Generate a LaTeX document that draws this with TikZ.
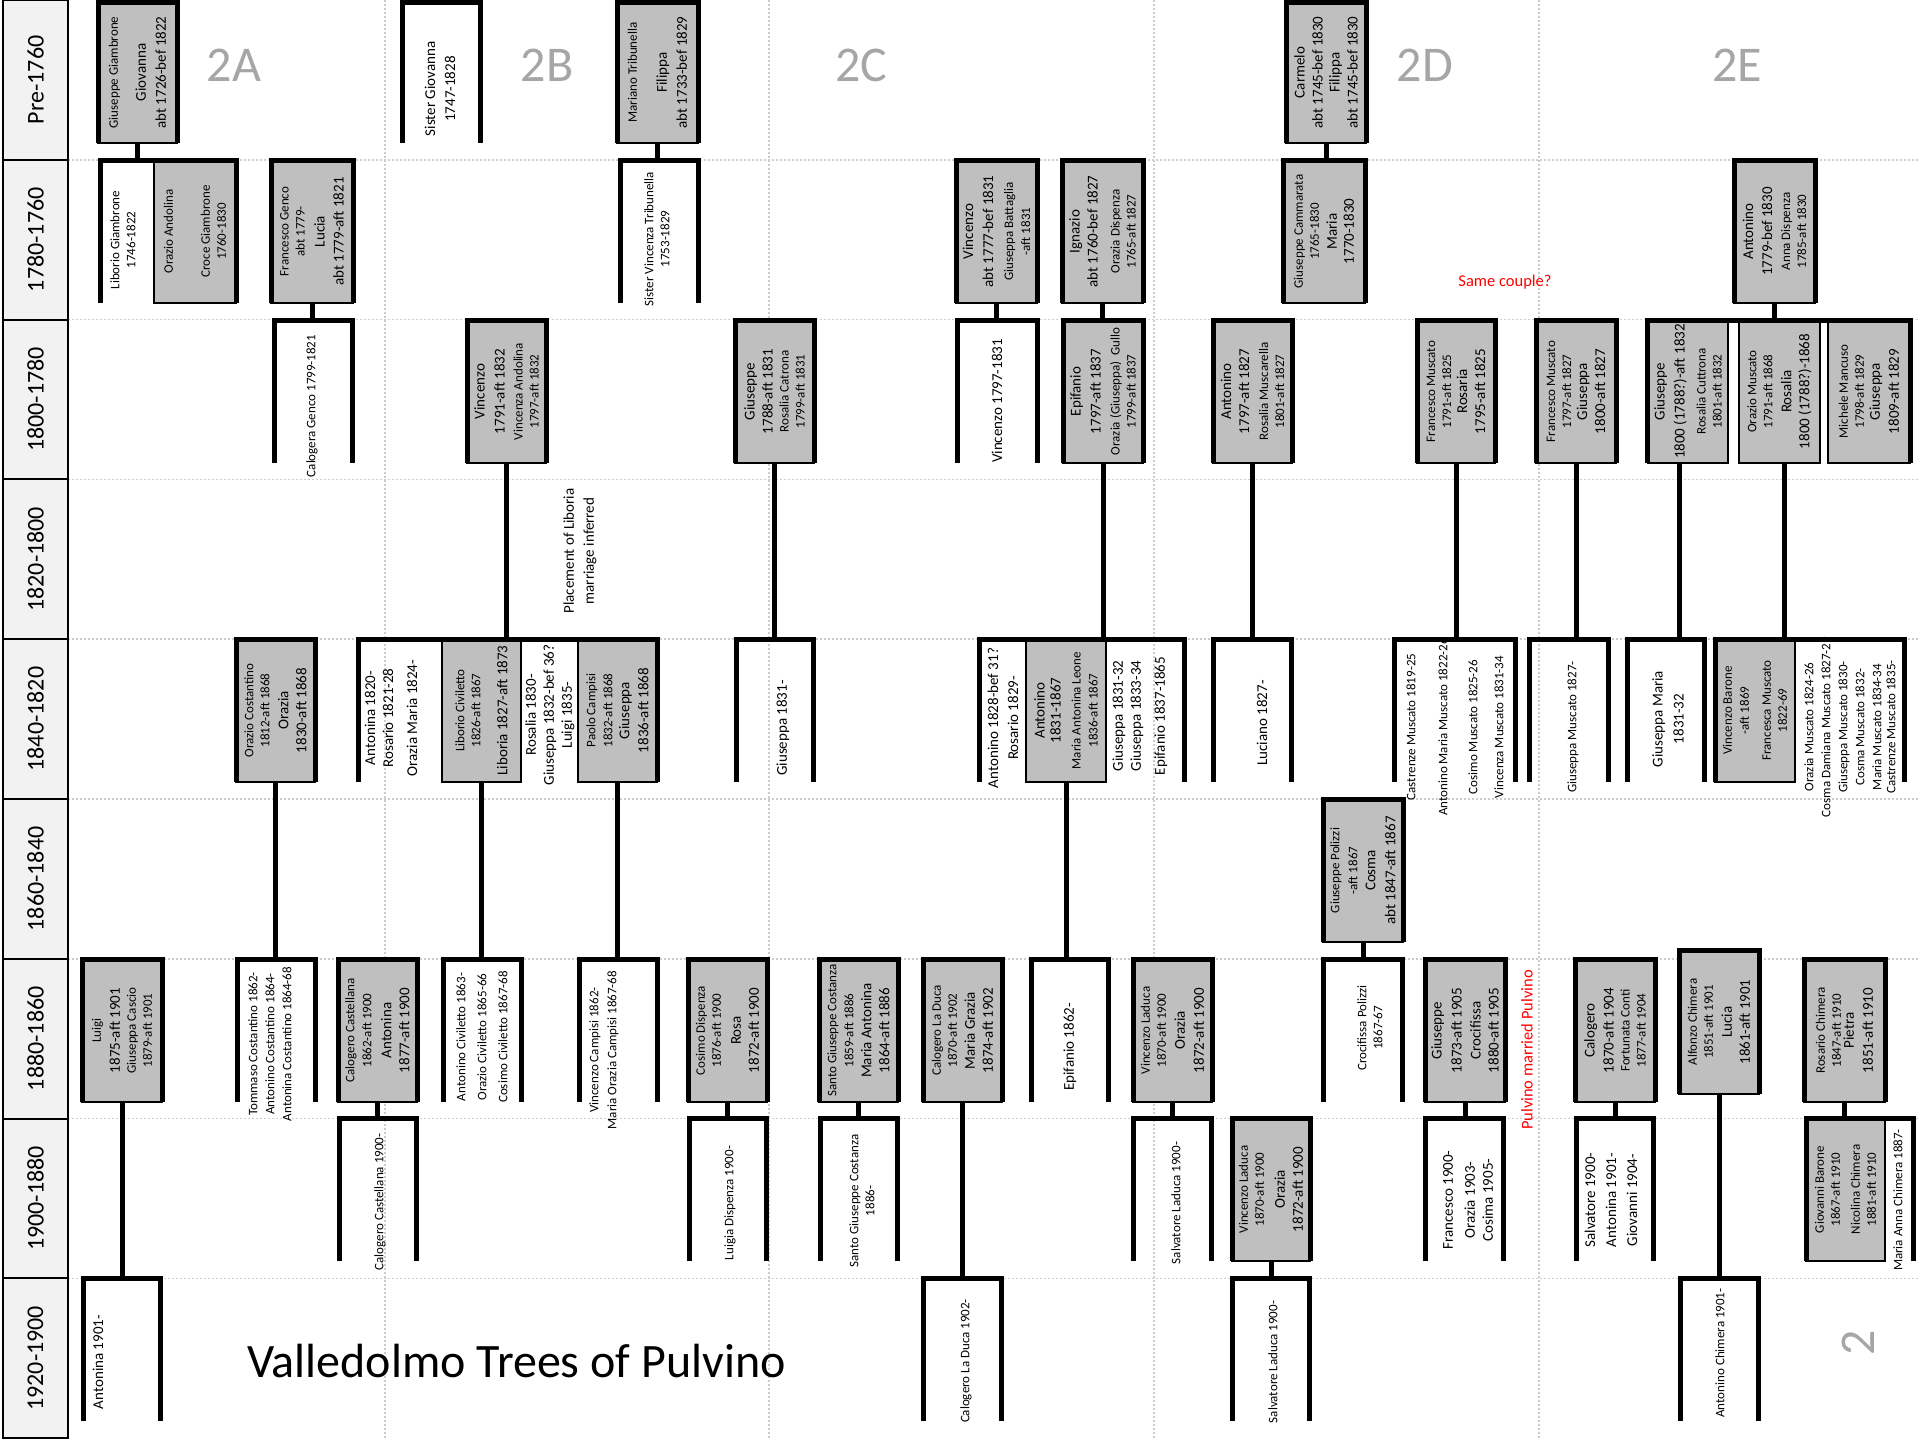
\documentclass[tikz,border=0pt]{standalone}
\usepackage{fontspec}
\setmainfont{Carlito}
\usetikzlibrary{positioning}

\definecolor{boxgray}{RGB}{191,191,191}
\definecolor{headgray}{RGB}{242,242,242}
\definecolor{labelgray}{RGB}{166,166,166}
\definecolor{gridgray}{RGB}{205,205,205}

\newcommand{\txs}{\fontsize{13}{16}\selectfont}
\newcommand{\txl}{\fontsize{15}{18}\selectfont}
% family bracket: name, left, right, top, bottom
\newcommand{\famspan}[5]{\coordinate (#1) at (#2,#4);
  \draw[fam] (#2,#5) -- (#1) -- (#3,#4) -- (#3,#5);}
\newcommand{\famown}[1]{\draw[fam] (#1.north west) -- (#1.north east) -- (#1.south east) -- (#1.south west);}
\newcommand{\famdrop}[2]{\draw[fam] (#1.west) -- (#1.west |- #2);}

\tikzset{
  fam/.style={line width=5pt},
  gridline/.style={draw=gridgray, line width=1.5pt, dash pattern=on 2pt off 2pt},
  rowhead/.style={draw, line width=2pt, fill=headgray, rotate=90, inner sep=0pt, outer sep=0pt,
    minimum width=159.8pt, minimum height=65pt, font=\fontsize{24}{29}\selectfont},
  couple/.style={draw, line width=2pt, fill=boxgray, rotate=90, inner sep=0pt, outer sep=0pt,
    minimum width=143pt, minimum height=80pt, align=center, font=\txs},
  kid/.style={rotate=90, inner sep=0pt, align=center, font=\txs},
  sect/.style={text=labelgray, font=\fontsize{50}{60}\selectfont},
  note/.style={text=red, font=\fontsize{16.5}{20}\selectfont},
}

\begin{document}
\begin{tikzpicture}[x=1pt, y=-1pt]
\useasboundingbox (0,0) rectangle (1920,1440);
\foreach \i in {1,...,8} \draw[gridline] (68,{159.8*\i}) -- (1920,{159.8*\i});
\foreach \x in {385,769,1154,1539} \draw[gridline] (\x,0) -- (\x,1440);
\foreach \lab [count=\i from 0] in {Pre-1760,1780-1760,1800-1780,1820-1800,1840-1820,1860-1840,1880-1860,1900-1880,1920-1900}
  \node[rowhead] (row\i) at (35.5,{79.9+159.8*\i}) {\lab};
\foreach \s/\x in {2A/234,2B/547,2C/861,2D/1425,2E/1737}
  \node[sect] (sec\s) at (\x,65) {\s};

% couples
\node[couple, minimum width=141pt, minimum height=79pt] (gg) at (137.5,72.5) {\txs Giuseppe Giambrone\\[12pt]\txl Giovanna\\[4pt]\txl abt 1726-bef 1822};
\node[couple, minimum width=141pt, minimum height=81pt] (mariano) at (657.5,72.5) {\txs Mariano Tribunella\\[14pt]\txl Filippa\\[4pt]\txl abt 1733-bef 1829};
\node[couple, minimum width=141pt] (carmelo) at (1326,72.5) {\txl Carmelo\\[2pt]\txl abt 1745-bef 1830\\[1pt]\txl Filippa\\[2pt]\txl abt 1745-bef 1830};

\node[couple, minimum height=82pt] (oandolina) at (195,231.5) {\txs Orazio Andolina\\[21pt]\txs Croce Giambrone\\ \txs 1760-1830};
\node[couple, minimum height=82pt] (genco) at (312,231.5) {\txs Francesco Genco\\ \txs abt 1779-\\[4pt]\txl Lucia\\[3pt]\txl abt 1779-aft 1821};
\node[couple, minimum height=81pt] (vbattaglia) at (996.5,231.5) {\txl Vincenzo\\[4pt]\txl abt 1777-bef 1831\\[4pt]\txs Giuseppa Battaglia\\[1pt]\txs -aft 1831};
\node[couple, minimum height=81pt] (ignazio) at (1102.5,231.5) {\txl Ignazio\\[2pt]\txl abt 1760-bef 1827\\[6pt]\txs Orazia Dispenza\\ \txs 1765-aft 1827};
\node[couple, minimum height=82pt] (cammarata) at (1324,231.5) {\txs Giuseppe Cammarata\\ \txs 1765-1830\\[2pt]\txl Maria\\[1pt]\txl 1770-1830};
\node[couple, minimum height=81pt] (adispenza) at (1774.5,231.5) {\txl Antonino\\[3pt]\txl 1779-bef 1830\\[2pt]\txs Anna Dispenza\\ \txs 1785-aft 1830};

\node[couple, minimum height=79pt] (vandolina) at (506.5,391.5) {\txl Vincenzo\\[4pt]\txl 1791-aft 1832\\[2pt]\txs Vincenza Andolina\\ \txs 1797-aft 1832};
\node[couple, minimum height=79pt] (gcatrona) at (774.5,391.5) {\txl Giuseppe\\[2pt]\txl 1788-aft 1831\\ \txs Rosalia Catrona\\ \txs 1799-aft 1831};
\node[couple] (epifanio) at (1103,391.5) {\txl Epifanio\\[4pt]\txl 1797-aft 1837\\[3pt]\txs Orazia (Giuseppa)\ \ Gullo\\ \txs 1799-aft 1837};
\node[couple, minimum height=79pt] (amuscarella) at (1252.5,391.5) {\txl Antonino\\[2pt]\txl 1797-aft 1827\\[3pt]\txs Rosalia Muscarella\\ \txs 1801-aft 1827};
\node[couple, minimum height=78pt] (fmrosaria) at (1456,391.5) {\txs Francesco Muscato\\ \txs 1791-aft 1825\\ \txl Rosaria\\[2pt]\txl 1795-aft 1825};
\node[couple] (fmgiuseppa) at (1576,391.5) {\txs Francesco Muscato\\ \txs 1797-aft 1827\\ \txl Giuseppa\\[2pt]\txl 1800-aft 1827};
\node[couple] (gm) at (1688,391.5) {\txl Giuseppe\\[4pt]\txl 1800 (1788?)-aft 1832\\[5pt]\txs Rosalia Cuttrona\\ \txs 1801-aft 1832};
\node[couple, minimum height=81pt] (omuscato) at (1779.5,391.5) {\txs Orazio Muscato\\ \txs 1791-aft 1868\\[3pt]\txl Rosalia\\[2pt]\txl 1800 (1788?)-1868};
\node[couple, minimum height=82pt] (mmancuso) at (1869,391.5) {\txs Michele Mancuso\\ \txs 1798-aft 1829\\ \txl Giuseppa\\[3pt]\txl 1809-aft 1829};

\node[couple, minimum height=79pt] (ocostantino) at (275.5,710.5) {\txs Orazio Costantino\\ \txs 1812-aft 1868\\[3pt]\txl Orazia\\[2pt]\txl 1830-aft 1868};
\node[couple, minimum height=79pt] (lcivil) at (481.5,710.5) {\txs Liborio Civiletto\\ \txs 1826-aft 1867\\[11pt]\txl Liboria 1827-aft 1873};
\node[couple, minimum height=79pt] (pcampisi) at (617.5,710.5) {\txs Paolo Campisi\\[1pt]\txs 1832-aft 1868\\[1pt]\txl Giuseppa\\[3pt]\txl 1836-aft 1868};
\node[couple] (aleone) at (1066,710.5) {\txl Antonino\\ \txl 1831-1867\\[4pt]\txs Maria Antonina Leone\\[1pt]\txs 1836-aft 1867};
\node[couple] (vbarone) at (1755,710.5) {\txs Vincenzo Barone\\[1pt]\txs -aft 1869\\[6pt]\txs Francesca Muscato\\ \txs 1822-69};

\node[couple] (gpolizzi) at (1363,870.5) {\txs Giuseppe Polizzi\\[2pt]\txs -aft 1867\\[2pt]\txl Cosma\\[4pt]\txl abt 1847-aft 1867};

\node[couple] (luigi) at (122,1030.5) {\txs Luigi\\[3pt]\txl 1875-aft 1901\\ \txs Giuseppa Cascio\\ \txs 1879-aft 1901};
\node[couple, minimum height=79pt] (ccastellana) at (377.5,1030.5) {\txs Calogero Castellana\\[1pt]\txs 1862-aft 1900\\[4pt]\txl Antonina\\[2pt]\txl 1877-aft 1900};
\node[couple, minimum height=79pt] (cdispenza) at (727.5,1030.5) {\txs Cosimo Dispenza\\ \txs 1876-aft 1900\\[4pt]\txl Rosa\\[2pt]\txl 1872-aft 1900};
\node[couple, minimum height=79pt] (sgcostanza) at (858.5,1030.5) {\txs Santo Giuseppe Costanza\\[1pt]\txs 1859-aft 1886\\[2pt]\txl Maria Antonina\\[2pt]\txl 1864-aft 1886};
\node[couple, minimum height=79pt] (claduca) at (962.5,1030.5) {\txs Calogero La Duca\\ \txs 1870-aft 1902\\[2pt]\txl Maria Grazia\\[2pt]\txl 1874-aft 1902};
\node[couple, minimum height=79pt] (vladuca1) at (1172.5,1030.5) {\txs Vincenzo Laduca\\ \txs 1870-aft 1900\\[3pt]\txl Orazia\\[3pt]\txl 1872-aft 1900};
\node[couple] (gcrocifissa) at (1465,1030.5) {\txl Giuseppe\\[4pt]\txl 1873-aft 1905\\[3pt]\txl Crocifissa\\[2pt]\txl 1880-aft 1905};
\node[couple] (cfortunata) at (1615,1030.5) {\txl Calogero\\[3pt]\txl 1870-aft 1904\\ \txs Fortunata Conti\\ \txs 1877-aft 1904};
\node[couple] (achimera) at (1719,1022) {\txs Alfonzo Chimera\\ \txs 1851-aft 1901\\[3pt]\txl Lucia\\[2pt]\txl 1861-aft 1901};
\node[couple, minimum height=81pt] (rchimera) at (1844.5,1030.5) {\txs Rosario Chimera\\ \txs 1847-aft 1910\\[-3pt]\txl Pietra\\[3pt]\txl 1851-aft 1910};

\node[couple, minimum height=78pt] (vladuca2) at (1271,1189.5) {\txs Vincenzo Laduca\\ \txs 1870-aft 1900\\[5pt]\txl Orazia\\[2pt]\txl 1872-aft 1900};
\node[couple, minimum height=79pt] (gbarone) at (1845.5,1189.5) {\txs Giovanni Barone\\ \txs 1867-aft 1910\\[4pt]\txs Nicolina Chimera\\ \txs 1881-aft 1910};

% brackets of couples with no parents shown
\foreach \b in {gg,mariano,carmelo,genco,vbattaglia,ignazio,adispenza,vandolina,gcatrona,amuscarella,%
fmrosaria,fmgiuseppa,ocostantino,gpolizzi,luigi,ccastellana,cdispenza,sgcostanza,claduca,vladuca1,%
gcrocifissa,cfortunata,achimera,rchimera,vladuca2}
  {\famown{\b}}

% sibling brackets
\famspan{fsgiov}{402}{480}{2}{143}
\famspan{fgg}{100}{236}{160}{303}
\famspan{fmariano}{620}{698}{160}{303}
\famspan{fcarm}{1283}{1365}{160}{303}
\famspan{fgenco}{274}{352}{320}{463}
\famspan{fbatt}{957}{1037}{320}{463}
\famspan{fign}{1063}{1143}{320}{463}
\famspan{fdisp}{1647}{1910}{320}{463}
\famspan{fvand}{358}{657}{639}{782}
\famspan{fcatrona}{736}{813}{639}{782}
\famspan{fepi}{979}{1184}{639}{782}
\famspan{fmusc}{1213}{1291}{639}{782}
\famspan{frosaria}{1394}{1515}{639}{782}
\famspan{fgiuseppa}{1529}{1608}{639}{782}
\famspan{fgm}{1627}{1704}{639}{782}
\famspan{fom}{1715}{1904}{639}{782}
\famspan{fcost}{237}{315}{959}{1102}
\famspan{fciv}{443}{521}{959}{1102}
\famspan{fcamp}{579}{657}{959}{1102}
\famspan{fleone}{1031}{1108}{959}{1102}
\famspan{fpol}{1323}{1402}{959}{1102}
\famspan{fcast}{339}{416}{1118}{1261}
\famspan{fcdisp}{689}{766}{1118}{1261}
\famspan{fsgc}{820}{897}{1118}{1261}
\famspan{fvl1}{1133}{1211}{1118}{1261}
\famspan{fcroc}{1425}{1503}{1118}{1261}
\famspan{fcalo}{1576}{1653}{1118}{1261}
\famspan{frchi}{1806}{1913}{1118}{1261}
\famspan{fluigi}{83}{160}{1278}{1421}
\famspan{fcld}{923}{1001}{1278}{1421}
\famspan{fvl2}{1232}{1309}{1278}{1421}
\famspan{fachi}{1680}{1758}{1278}{1421}

% descent lines
\famdrop{gg}{fgg}
\famdrop{mariano}{fmariano}
\famdrop{carmelo}{fcarm}
\famdrop{genco}{fgenco}
\famdrop{vbattaglia}{fbatt}
\famdrop{ignazio}{fign}
\famdrop{adispenza}{fdisp}
\famdrop{vandolina}{fvand}
\famdrop{gcatrona}{fcatrona}
\famdrop{epifanio}{fepi}
\famdrop{amuscarella}{fmusc}
\famdrop{fmrosaria}{frosaria}
\famdrop{fmgiuseppa}{fgiuseppa}
\famdrop{ocostantino}{fcost}
\famdrop{lcivil}{fciv}
\famdrop{pcampisi}{fcamp}
\famdrop{aleone}{fleone}
\famdrop{gpolizzi}{fpol}
\famdrop{luigi}{fluigi}
\famdrop{ccastellana}{fcast}
\famdrop{cdispenza}{fcdisp}
\famdrop{sgcostanza}{fsgc}
\famdrop{claduca}{fcld}
\famdrop{vladuca1}{fvl1}
\famdrop{gcrocifissa}{fcroc}
\famdrop{cfortunata}{fcalo}
\famdrop{achimera}{fachi}
\famdrop{rchimera}{frchi}
\famdrop{vladuca2}{fvl2}
\draw[fam] ([xshift=-9pt]gm.west) -- ([xshift=-9pt]gm.west |- fgm);
\draw[fam] ([xshift=5pt]omuscato.west) -- ([xshift=5pt]omuscato.west |- fom);

% children without spouse
\node[kid] (liborio) at (123,240) {Liborio Giambrone\\1746-1822};
\node[kid, font=\txl] (sgiovanna) at (440,89) {Sister Giovanna\\[2pt]1747-1828};
\node[kid] (calogera) at (312,406) {Calogera Genco 1799-1821};
\node[kid] (svincenza) at (657,239) {Sister Vincenza Tribunella\\1753-1829};
\node[kid, font=\txl] (placement) at (580,551) {Placement of Liboria\\[2pt]marriage inferred};
\node[kid, font=\txl] (antonina20) at (391,718) {Antonina 1820-\\Rosario 1821-28\\[6pt]Orazia Maria 1824-};
\node[kid, font=\txl] (rosalia30) at (550,715) {Rosalia 1830-\\Giuseppa 1832-bef 36?\\Luigi 1835-};
\node[kid, font=\txl] (giuseppa31) at (783,728) {Giuseppa 1831-};
\node[kid, font=\txl] (vincenzo97) at (997,401) {Vincenzo 1797-1831};
\node[kid, font=\txl] (antonino28) at (1003,718) {Antonino 1828-bef 31?\\[2pt]Rosario 1829-};
\node[kid, font=\txl] (giuseppa3132) at (1140,716) {Giuseppa 1831-32\\Giuseppa 1833-34\\[6pt]Epifanio 1837-1865};
\node[kid, font=\txl] (luciano) at (1262,723) {Luciano 1827-};
\node[kid] (castrenze19) at (1455,727) {Castrenze Muscato 1819-25\\[16pt]Antonino Maria Muscato 1822-26\\[14pt]Cosimo Muscato 1825-26\\[10pt]Vincenza Muscato 1831-34};
\node[kid] (giuseppa27) at (1573,727) {Giuseppa Muscato 1827-};
\node[kid, font=\txl] (gmaria) at (1668,719) {Giuseppa Maria\\[3pt]1831-32};
\node[kid] (orazia24) at (1850,727) {Orazia Muscato 1824-26\\[1pt]Cosma Damiana Muscato 1827-29\\[1pt]Giuseppa Muscato 1830-\\[1pt]Cosma Muscato 1832-\\[1pt]Maria Muscato 1834-34\\[-2pt]Castrenze Muscato 1835-};
\node[kid] (tommaso) at (270,1044) {Tommaso Costantino 1862-\\[1pt]Antonino Costantino 1864-\\[1pt]Antonina Costantino 1864-68};
\node[kid] (acivil) at (482,1037) {Antonino Civiletto 1863-\\[5pt]Orazio Civiletto 1865-66\\[5pt]Cosimo Civiletto 1867-68};
\node[kid] (vcampisi) at (604,1050) {Vincenzo Campisi 1862-\\[2pt]Maria Orazia Campisi 1867-68};
\node[kid, font=\txl] (epifanio62) at (1070,1047) {Epifanio 1862-};
\node[kid] (crocifissa) at (1370,1028) {Crocifissa Polizzi\\1867-67};
\node[kid, font=\txl] (antonina01) at (98,1362) {Antonina 1901-};
\node[kid] (calogero00) at (380,1202) {Calogero Castellana 1900-};
\node[kid] (luigia) at (730,1203) {Luigia Dispenza 1900-};
\node[kid] (santo86) at (862,1201) {Santo Giuseppe Costanza\\1886-};
\node[kid] (calogero02) at (966,1361) {Calogero La Duca 1902-};
\node[kid] (salvatore1) at (1176,1203) {Salvatore Laduca 1900-};
\node[kid] (salvatore2) at (1273,1362) {Salvatore Laduca 1900-};
\node[kid, font=\txl] (francesco00) at (1468,1200) {Francesco 1900-\\[4pt]Orazia 1903-\\Cosima 1905-};
\node[kid, font=\txl] (salvatore00) at (1611,1200) {Salvatore 1900-\\[3pt]Antonina 1901-\\[3pt]Giovanni 1904-};
\node[kid] (achimera01) at (1720,1353) {Antonino Chimera 1901-};
\node[kid] (maria87) at (1898,1200) {Maria Anna Chimera 1887-};

% notes and titles
\node[note] (same) at (1505,282) {Same couple?};
\node[note, rotate=90] (married) at (1527,1050) {Pulvino married Pulvino};
\node[font=\fontsize{48}{58}\selectfont, anchor=base west, inner sep=0pt] (title) at (247,1377) {Valledolmo Trees of Pulvino};
\node[sect, rotate=90] (page) at (1858,1343) {2};
\end{tikzpicture}
\end{document}
